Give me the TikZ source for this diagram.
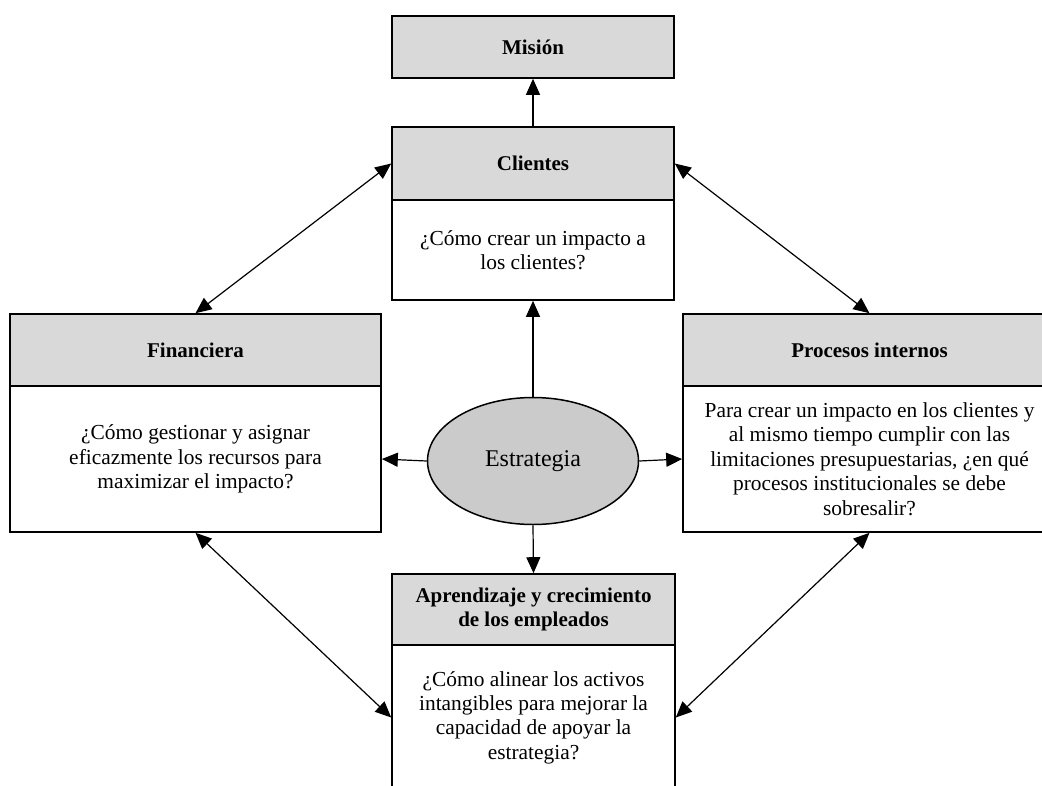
\documentclass[tikz,border=0pt]{standalone}
\usepackage{fontspec}
\setmainfont{Liberation Serif}
\usetikzlibrary{arrows.meta,shapes.geometric}

\definecolor{hdrgray}{HTML}{D9D9D9}
\definecolor{ellgray}{HTML}{CBCBCB}

\tikzset{
  txt/.style={font=\fontsize{21.4pt}{24.4pt}\selectfont, align=center, inner sep=0pt},
  hdr/.style={txt, draw=black, line width=1.6pt, fill=hdrgray, font=\fontsize{21pt}{23.5pt}\selectfont\bfseries},
  bodybox/.style={txt, draw=black, line width=1.6pt, fill=white},
  ell/.style={ellipse, draw=black, line width=1.5pt, fill=ellgray, inner sep=0pt,
              minimum width=211pt, minimum height=127pt, font=\fontsize{24pt}{28pt}\selectfont},
  tip/.style={line width=1.2pt, -{Triangle[length=16pt,width=14pt]}},
  bitip/.style={line width=1.2pt, {Triangle[length=16pt,width=14pt]}-{Triangle[length=16pt,width=14pt]}}
}

\begin{document}
\begin{tikzpicture}[x=1pt,y=-1pt]
\useasboundingbox (0,0) rectangle (1042,785);

% Misión
\node[hdr, minimum width=282pt, minimum height=62pt] (mis) at (533,47) {Misión};

% Clientes
\node[hdr, minimum width=282pt, minimum height=73pt] (cli) at (533,163.5) {Clientes};
\node[bodybox, minimum width=282pt, minimum height=100pt] (clib) at (533,250)
  {¿Cómo crear un impacto a\\los clientes?};

% Financiera
\node[hdr, minimum width=371pt, minimum height=72pt] (fin) at (195.5,350) {Financiera};
\node[bodybox, minimum width=371pt, minimum height=146pt] (finb) at (195.5,459)
  {¿Cómo gestionar y asignar\\eficazmente los recursos para\\maximizar el impacto?};

% Procesos internos
\node[hdr, minimum width=373pt, minimum height=72pt] (pro) at (869.5,350) {Procesos internos};
\node[bodybox, minimum width=373pt, minimum height=146pt] (prob) at (869.5,459)
  {Para crear un impacto en los clientes y\\al mismo tiempo cumplir con las\\limitaciones presupuestarias, ¿en qué\\procesos institucionales se debe\\sobresalir?};

% Aprendizaje y crecimiento
\node[hdr, minimum width=283pt, minimum height=71pt] (apr) at (533.5,609.5)
  {Aprendizaje y crecimiento\\de los empleados};
\node[bodybox, minimum width=283pt, minimum height=145pt] (aprb) at (533.5,717.5)
  {¿Cómo alinear los activos\\intangibles para mejorar la\\capacidad de apoyar la\\estrategia?};

% Estrategia
\node[ell] (est) at (533,461) {Estrategia};

% Connectors
\draw[tip] (cli.north) -- (mis.south);
\draw[tip] (est.north) -- (clib.south);
\draw[tip] (est.west) -- (finb.east);
\draw[tip] (est.east) -- (prob.west);
\draw[tip] (est.south) -- (apr.north);

\draw[bitip] (cli.west) -- (fin.north);
\draw[bitip] (cli.east) -- (pro.north);
\draw[bitip] (finb.south) -- (aprb.west);
\draw[bitip] (prob.south) -- (aprb.east);
\end{tikzpicture}
\end{document}
